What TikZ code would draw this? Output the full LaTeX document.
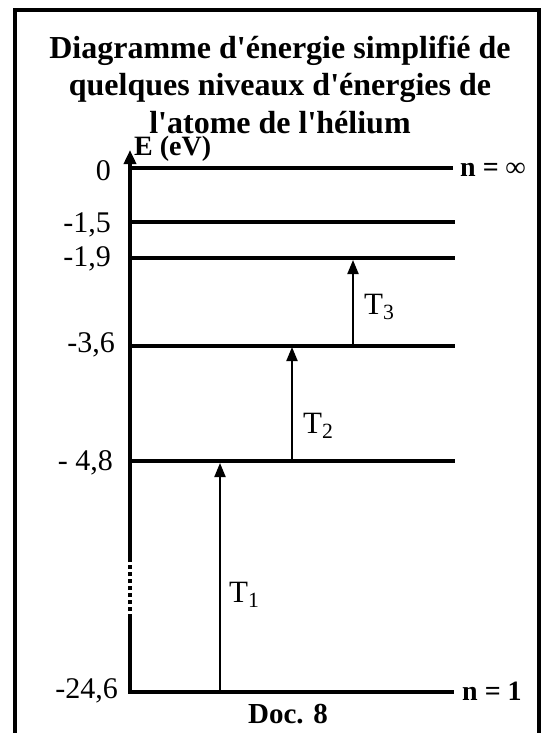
\documentclass[tikz,border=0pt]{standalone}
\usepackage{fontspec}
\setmainfont{Liberation Serif}
\usetikzlibrary{arrows.meta}
\newcommand{\ap}{\textquotesingle}
\begin{document}
\begin{tikzpicture}[x=1pt,y=-1pt,
  level/.style={line width=4pt},
  frame/.style={line width=4pt},
  axisline/.style={line width=4pt},
  trans/.style={line width=2pt,-{Triangle[length=14pt,width=11pt]}},
  titl/.style={anchor=base,inner sep=0pt,font=\bfseries\fontsize{32}{32}\selectfont},
  val/.style={anchor=base east,inner sep=0pt,font=\fontsize{30}{30}\selectfont},
  tlab/.style={anchor=base west,inner sep=0pt,font=\fontsize{31}{31}\selectfont},
  nlab/.style={anchor=base west,inner sep=0pt,font=\bfseries\fontsize{28}{28}\selectfont}]
\useasboundingbox (0,0) rectangle (549,733);
% frame
\draw[frame] (15,740) -- (15,10) -- (539,10) -- (539,740);
% title
\node[titl] (title1) at (280,59) {Diagramme d\ap énergie simplifié de};
\node[titl] (title2) at (280,96) {quelques niveaux d\ap énergies de};
\node[titl] (title3) at (280,133) {l\ap atome de l\ap hélium};
% axis
\coordinate (ax0) at (130,692);
\coordinate (axb1) at (130,618);
\coordinate (axb2) at (130,560);
\coordinate (axtop) at (130,150);
\draw[axisline] (ax0) -- (axb1);
\draw[axisline,dash pattern=on 4pt off 3pt] (axb1) -- (axb2);
\draw[axisline,-{Triangle[length=14pt,width=12pt]}] (axb2) -- (axtop);
\node[anchor=base west,inner sep=0pt,font=\bfseries\fontsize{28}{28}\selectfont] (E) at (134,155) {E (eV)};
% levels
\coordinate (a0) at (128,168);   \coordinate (b0) at (453,168);
\coordinate (a1) at (130,222);   \coordinate (b1) at (455,222);
\coordinate (a2) at (130,258);   \coordinate (b2) at (455,258);
\coordinate (a3) at (130,346);   \coordinate (b3) at (455,346);
\coordinate (a4) at (130,461);   \coordinate (b4) at (455,461);
\coordinate (a5) at (128,692);   \coordinate (b5) at (454,692);
\draw[level] (a0) -- (b0);
\draw[level] (a1) -- (b1);
\draw[level] (a2) -- (b2);
\draw[level] (a3) -- (b3);
\draw[level] (a4) -- (b4);
\draw[level] (a5) -- (b5);
% values
\node[val] (v0) at (111,180) {0};
\node[val] (v1) at (111,232) {-1,5};
\node[val] (v2) at (111,266) {-1,9};
\node[val] (v3) at (115,352) {-3,6};
\node[val] (v4) at (113,470) {- 4,8};
\node[val] (v5) at (118,698) {-24,6};
% n labels
\node[nlab] (ninf) at (460,176) {n = ∞};
\node[nlab] (n1) at (462,700) {n = 1};
% transitions
\coordinate (t1s) at (220,692); \coordinate (t1e) at (220,463);
\coordinate (t2s) at (292,461); \coordinate (t2e) at (292,347);
\coordinate (t3s) at (353,346); \coordinate (t3e) at (353,260);
\draw[trans] (t1s) -- (t1e);
\draw[trans] (t2s) -- (t2e);
\draw[trans] (t3s) -- (t3e);
\node[tlab] (T1) at (229,602) {T\textsubscript{1}};
\node[tlab] (T2) at (303,433) {T\textsubscript{2}};
\node[tlab] (T3) at (364,314) {T\textsubscript{3}};
% doc
\node[anchor=base,inner sep=0pt,font=\bfseries\fontsize{29}{29}\selectfont] (doc) at (288,723) {Doc. 8};
\end{tikzpicture}
\end{document}
